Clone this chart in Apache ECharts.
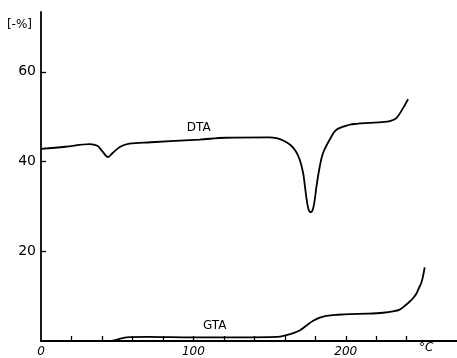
<!DOCTYPE html>
<html>
<head>
<meta charset="utf-8">
<script src="https://cdn.jsdelivr.net/npm/echarts@6/dist/echarts.min.js"></script>
<style>
  html, body { margin: 0; padding: 0; background: #fff; }
  #chart { width: 457px; height: 358px; }
</style>
</head>
<body>
<div id="chart"></div>
<script>
// Temperature [°C] and signal [-%] for the DTA trace
const dtaTemp = [0, 16, 32, 37, 40, 44, 47, 52, 58, 72, 104, 121, 150, 154.5, 158.9, 163.3, 167, 169.8, 172, 173.2, 174.3, 175.6, 177, 178.4, 179.7, 180.8, 183, 185.1, 189.5, 193.9, 202.6, 207, 215, 224, 228.9, 233.2, 237.6, 240.9];
const dtaValue = [42.8, 43.3, 43.9, 43.5, 42.4, 41.0, 41.9, 43.3, 44.0, 44.3, 44.9, 45.3, 45.4, 45.2, 44.7, 43.8, 42.4, 40.4, 37.5, 34.5, 31.6, 29.3, 28.7, 29.3, 31.6, 34.5, 39.0, 41.9, 44.9, 47.1, 48.2, 48.4, 48.6, 48.8, 49.0, 49.7, 51.9, 53.9];

// Temperature [°C] and mass loss [-%] for the GTA trace
const gtaTemp = [0, 46, 50, 56, 70, 100, 130, 155, 161, 166, 170, 174, 178.6, 183, 187.3, 195, 203, 214, 224.5, 231, 235.4, 239, 242, 244.5, 246.4, 248, 249.6, 250.8, 251.8];
const gtaValue = [0, 0, 0.3, 0.8, 0.9, 0.8, 0.8, 0.9, 1.3, 1.8, 2.4, 3.4, 4.5, 5.2, 5.6, 5.85, 6.0, 6.1, 6.3, 6.6, 7.0, 7.9, 8.8, 9.7, 10.6, 11.8, 13.0, 14.6, 16.4];

// Axis ticks and labels
const xTicks = [20, 40, 60, 80, 100, 120, 140, 160, 180, 200, 220, 240];
const xLabels = [0, 100, 200];
const yTicks = [20, 40, 60];
const yLabels = [20, 40, 60];

// Curve name tags, anchored in data coordinates
const dtaTag = { name: 'DTA', at: [103.5, 47.5] };
const gtaTag = { name: 'GTA', at: [114, 3.3] };

const ink = '#000';
const font = 'DejaVu Sans';

const zip = (xs, ys) => xs.map((x, i) => [x, ys[i]]);

function traceSeries(name, xs, ys, tag) {
  return {
    name: name,
    type: 'line',
    data: zip(xs, ys),
    smooth: 0.35,
    symbol: 'none',
    lineStyle: { color: ink, width: 1.8 },
    silent: true,
    markPoint: {
      symbol: 'circle',
      symbolSize: 0,
      silent: true,
      label: {
        show: true,
        position: 'inside',
        formatter: tag.name,
        color: ink,
        fontFamily: font,
        fontSize: 12
      },
      data: [{ coord: tag.at }]
    }
  };
}

const chart = echarts.init(document.getElementById('chart'), null, { renderer: 'canvas' });

chart.setOption({
  animation: false,
  backgroundColor: '#fff',
  grid: { left: 41, right: 0, top: 12, bottom: 16, containLabel: false },
  xAxis: {
    type: 'value',
    min: 0,
    max: 273,
    splitLine: { show: false },
    axisLine: { show: true, lineStyle: { color: ink, width: 1.8 } },
    axisTick: { show: true, inside: true, length: 5, customValues: xTicks, lineStyle: { color: ink, width: 1.3 } },
    axisLabel: {
      show: true,
      customValues: xLabels,
      margin: 5,
      color: ink,
      fontFamily: font,
      fontStyle: 'italic',
      fontSize: 12
    }
  },
  yAxis: {
    type: 'value',
    min: 0,
    max: 73.33,
    name: '[-%]',
    nameLocation: 'end',
    nameGap: -19,
    nameTextStyle: {
      color: ink,
      fontFamily: font,
      fontSize: 12,
      align: 'right',
      padding: [0, 9, 0, 0]
    },
    splitLine: { show: false },
    axisLine: { show: true, lineStyle: { color: ink, width: 1.8 } },
    axisTick: { show: true, inside: true, length: 5, customValues: yTicks, lineStyle: { color: ink, width: 1.3 } },
    axisLabel: {
      show: true,
      customValues: yLabels,
      margin: 5,
      color: ink,
      fontFamily: font,
      fontSize: 14
    }
  },
  graphic: [{
    type: 'text',
    left: 419,
    top: 342,
    style: { text: '°C', fill: ink, font: 'italic 12px "DejaVu Sans"' }
  }],
  series: [
    traceSeries('DTA', dtaTemp, dtaValue, dtaTag),
    traceSeries('GTA', gtaTemp, gtaValue, gtaTag)
  ]
});
</script>
</body>
</html>
